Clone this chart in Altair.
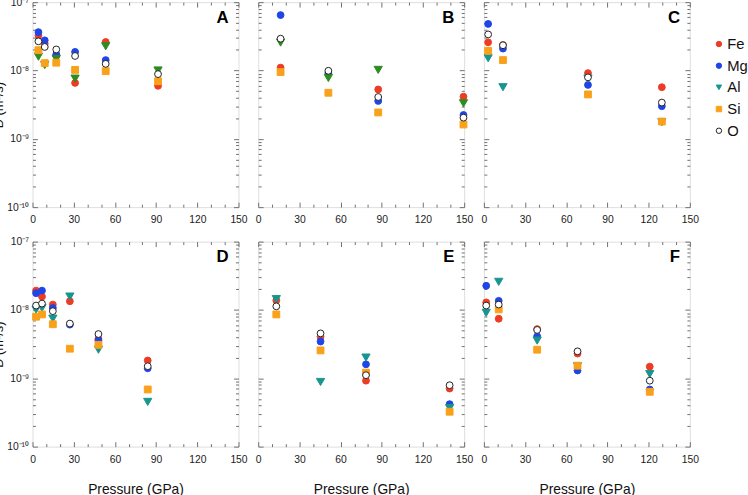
import altair as alt
import pandas as pd

# ---------------- data ----------------
ELEMENTS = ["Fe", "Mg", "Al", "Si", "O"]

A_P = [4.3, 8.9, 17.3, 31.0, 53.3, 91.4]
A_Fe = [3.26e-8, 2.47e-8, 1.65e-8, 6.58e-9, 2.61e-8, 5.96e-9]
A_Mg = [3.64e-8, 2.76e-8, 1.72e-8, 1.87e-8, 1.42e-8, None]
A_Al = [1.59e-8, 1.20e-8, 1.47e-8, 7.6e-9, 2.26e-8, 1.0e-8]
A_Si = [1.98e-8, 1.28e-8, 1.30e-8, 1.02e-8, 9.78e-9, 6.95e-9]
A_O = [2.67e-8, 2.21e-8, 2.03e-8, 1.63e-8, 1.25e-8, 8.85e-9]

B_P = [16.3, 51.1, 87.4, 149.5]
B_Fe = [1.10e-8, None, 5.27e-9, 4.13e-9]
B_Mg = [6.47e-8, 9.16e-9, 3.58e-9, 2.23e-9]
B_Al = [2.56e-8, 7.76e-9, 1.02e-8, 3.31e-9]
B_Si = [9.46e-9, 4.72e-9, 2.43e-9, 1.62e-9]
B_O = [2.92e-8, 9.89e-9, 4.09e-9, 2.04e-9]

C_P = [3.1, 13.9, 75.8, 129.6]
C_Fe = [2.58e-8, 2.36e-8, 9.16e-9, 5.69e-9]
C_Mg = [4.8e-8, 2.09e-8, 6.15e-9, 3.0e-9]
C_Al = [1.51e-8, 5.69e-9, 7.6e-9, 1.75e-9]
C_Si = [1.94e-8, 1.42e-8, 4.46e-9, 1.79e-9]
C_O = [3.37e-8, 2.34e-8, 7.93e-9, 3.39e-9]

D_P = [2.6, 6.9, 14.8, 27.2, 48.0, 83.9]
D_Fe = [1.92e-8, 1.57e-8, 1.20e-8, 1.34e-8, 3.77e-9, 1.82e-9]
D_Mg = [1.76e-8, 1.92e-8, 1.07e-8, 6.1e-9, 3.6e-9, 1.4e-9]
D_Al = [1.01e-8, 1.07e-8, 7.45e-9, 1.57e-8, 2.62e-9, 4.51e-10]
D_Si = [7.96e-9, 8.6e-9, 6.18e-9, 2.71e-9, 3.09e-9, 6.86e-10]
D_O = [1.16e-8, 1.24e-8, 9.6e-9, 6.32e-9, 4.44e-9, 1.5e-9]

E_P = [13.2, 45.4, 78.5, 139.4]
E_Fe = [1.38e-8, 4.07e-9, 9.22e-10, 7.08e-10]
E_Mg = [None, 3.45e-9, 1.6e-9, 4.18e-10]
E_Al = [1.44e-8, 8.83e-10, 2.01e-9, 3.66e-10]
E_Si = [8.6e-9, 2.56e-9, 1.21e-9, 3.24e-10]
E_O = [1.13e-8, 4.54e-9, 1.11e-9, 7.91e-10]

F_P = [1.7, 10.8, 38.8, 68.2, 120.8]
F_Fe = [1.29e-8, 7.44e-9, 5.25e-9, 2.3e-9, 1.48e-9]
F_Mg = [2.26e-8, 1.36e-8, 4.11e-9, 1.3e-9, 6.85e-10]
F_Al = [9.08e-9, 2.58e-8, 3.56e-9, 1.5e-9, 1.15e-9]
F_Si = [None, 1.02e-8, 2.62e-9, 1.53e-9, 6.34e-10]
F_O = [1.16e-8, 1.2e-8, 5.1e-9, 2.48e-9, 9.22e-10]

X_MAJOR = [0, 30, 60, 90, 120, 150]
X_MINOR = [10, 20, 40, 50, 70, 80, 100, 110, 130, 140]
Y_MAJOR = [1e-10, 1e-9, 1e-8, 1e-7]
Y_MINOR = [k * 10.0 ** e for e in (-10, -9, -8) for k in range(2, 10)]

PANELS = {
    "A": (A_P, [A_Fe, A_Mg, A_Al, A_Si, A_O]),
    "B": (B_P, [B_Fe, B_Mg, B_Al, B_Si, B_O]),
    "C": (C_P, [C_Fe, C_Mg, C_Al, C_Si, C_O]),
    "D": (D_P, [D_Fe, D_Mg, D_Al, D_Si, D_O]),
    "E": (E_P, [E_Fe, E_Mg, E_Al, E_Si, E_O]),
    "F": (F_P, [F_Fe, F_Mg, F_Al, F_Si, F_O]),
}
GREEN_AL_PANELS = ["A", "B"]

rows = []
for letter, (pres, series) in PANELS.items():
    for el, vals in zip(ELEMENTS, series):
        key = "Al*" if (el == "Al" and letter in GREEN_AL_PANELS) else el
        for p, v in zip(pres, vals):
            if v is not None:
                rows.append({"panel": letter, "P": p, "element": el, "key": key, "D": v})
df = pd.DataFrame(rows)

# ---------------- styling ----------------
FONT = "Liberation Sans"
W, H = 209, 208
KEYS = ["Fe", "Mg", "Al", "Si", "O", "Al*"]
FILLS = ["#ee3b24", "#1f45e6", "#17958f", "#f9a11b", "#ffffff", "#2e8b22"]
STROKES = ["#ee3b24", "#1f45e6", "#17958f", "#f9a11b", "#222222", "#2e8b22"]
SHAPES = ["circle", "circle", "triangle-down", "square", "circle", "triangle-down"]
TICK_COLOR = "#707070"

legend = alt.Legend(
    orient="none", legendX=689, legendY=35, title=None, values=ELEMENTS,
    labelFontSize=15, labelFont=FONT, labelColor="#111", symbolSize=30,
    symbolStrokeWidth=1, labelOffset=1, rowPadding=6,
)
xs = alt.Scale(domain=[0, 150], nice=False, zero=False, padding=0)
ys = alt.Scale(type="log", domain=[1e-10, 1e-7], nice=False, padding=0)

Y_LABEL_EXPR = ("datum.value > 5e-8 ? '10\u207b\u2077' : datum.value > 5e-9 ? '10\u207b\u2078' : "
                "datum.value > 5e-10 ? '10\u207b\u2079' : '10\u207b\u00b9\u2070'")


def tick_layer(base, xorient, yorient, xvals, yvals, size):
    return base.mark_point(opacity=0).encode(
        x=alt.X("P:Q", scale=xs, axis=alt.Axis(
            orient=xorient, offset=-H, values=xvals, labels=False, domain=False, grid=False,
            ticks=True, tickSize=size, tickColor=TICK_COLOR, tickWidth=1, title=None)),
        y=alt.Y("D:Q", scale=ys, axis=alt.Axis(
            orient=yorient, offset=-W, values=yvals, labels=False, domain=False, grid=False,
            ticks=True, tickSize=size, tickColor=TICK_COLOR, tickWidth=1, title=None)),
    )


def make_panel(letter, left, bottom):
    base = alt.Chart(df[df.panel == letter])
    xaxis = alt.Axis(
        orient="bottom", values=X_MAJOR, ticks=False, domain=False, grid=False, labelFontSize=10.5,
        labelFont=FONT, labelColor="#222", labelPadding=8, labelFlush=False,
        title="Pressure (GPa)" if bottom else None, titleFont=FONT, titleFontSize=14,
        titleFontWeight="normal", titleColor="#111", titlePadding=18,
    )
    yaxis = alt.Axis(
        orient="left", values=Y_MAJOR, ticks=False, domain=False, grid=False, labelFontSize=10.5,
        labelFont=FONT, labelColor="#222", labelPadding=4, labelExpr=Y_LABEL_EXPR,
        labelOpacity=1 if left else 0, labelFlush=False,
        title="D (m\u00b2/s)" if left else None, titleFont=FONT, titleFontSize=13,
        titleFontWeight="normal", titleColor="#111", titlePadding=0,
    )
    style = dict(
        fill=alt.Fill("key:N", scale=alt.Scale(domain=KEYS, range=FILLS), legend=legend),
        stroke=alt.Stroke("key:N", scale=alt.Scale(domain=KEYS, range=STROKES), legend=legend),
        shape=alt.Shape("key:N", scale=alt.Scale(domain=KEYS, range=SHAPES), legend=legend),
    )
    low = base.transform_filter(alt.FieldOneOfPredicate(field="element", oneOf=["Fe", "Mg"])) \
        .mark_point(filled=True, size=48, strokeWidth=1, opacity=1).encode(
            x=alt.X("P:Q", scale=xs, axis=xaxis), y=alt.Y("D:Q", scale=ys, axis=yaxis), **style)
    mid = base.transform_filter(alt.FieldOneOfPredicate(field="element", oneOf=["Al"])) \
        .mark_point(filled=True, size=70, strokeWidth=1, opacity=1).encode(
            x=alt.X("P:Q", scale=xs, axis=None), y=alt.Y("D:Q", scale=ys, axis=None), **style)
    top = base.transform_filter(alt.FieldOneOfPredicate(field="element", oneOf=["Si", "O"])) \
        .mark_point(filled=True, size=48, strokeWidth=1, opacity=1).encode(
            x=alt.X("P:Q", scale=xs, axis=None), y=alt.Y("D:Q", scale=ys, axis=None), **style)
    layers = [
        low, mid, top,
        tick_layer(base, "top", "right", X_MAJOR, Y_MAJOR, 5),
        tick_layer(base, "top", "right", X_MINOR, Y_MINOR, 3),
        tick_layer(base, "bottom", "left", X_MAJOR, Y_MAJOR, 5),
        tick_layer(base, "bottom", "left", X_MINOR, Y_MINOR, 3),
    ]
    return alt.layer(*layers).resolve_axis(x="independent", y="independent").properties(
        width=W, height=H,
        title=alt.TitleParams(letter, anchor="end", orient="top", frame="group", offset=-30,
                              dx=-10, fontSize=17, fontWeight="bold", font=FONT, color="#000"),
    )


panels = [
    make_panel("A", True, False), make_panel("B", False, False), make_panel("C", False, False),
    make_panel("D", True, True), make_panel("E", False, True), make_panel("F", False, True),
]

chart = alt.concat(*panels, columns=3, spacing={"row": 35, "column": 20}).properties(
    bounds="flush",
    padding={"left": -8, "top": -7.5, "right": 0, "bottom": 0},
).configure_view(stroke="#6e6e6e", strokeWidth=1.5).configure(background="white")

chart.save("out.html", embed_options={"renderer": "svg", "actions": False})
